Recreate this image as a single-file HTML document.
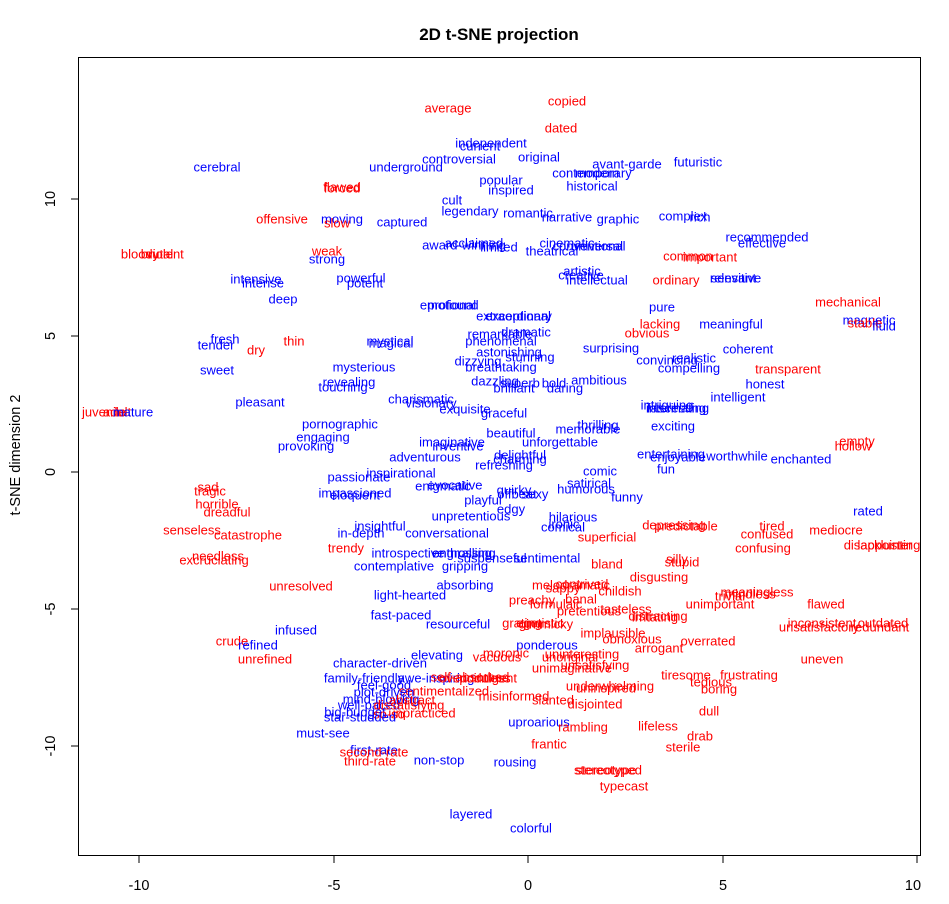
<!DOCTYPE html>
<html><head><meta charset="utf-8"><style>
html,body{margin:0;padding:0;background:#fff}
svg{display:block}
text{font-family:"Liberation Sans",Arial,sans-serif}
.r{fill:#ff0000}.b{fill:#0000ff}
.w text{font-size:13px;text-anchor:middle;dominant-baseline:central}
</style></head><body>
<svg width="949" height="904" xmlns="http://www.w3.org/2000/svg">
<rect width="949" height="904" fill="#fff"/>
<text x="499" y="40" font-size="17" font-weight="bold" text-anchor="middle">2D t-SNE projection</text>
<rect x="78.5" y="57.5" width="842" height="798" fill="none" stroke="#000" stroke-width="1"/>
<g stroke="#000">
<line x1="139" y1="856" x2="139" y2="863"/><line x1="334" y1="856" x2="334" y2="863"/><line x1="528" y1="856" x2="528" y2="863"/><line x1="723" y1="856" x2="723" y2="863"/><line x1="917" y1="856" x2="917" y2="863"/>
<line x1="78" y1="746" x2="71" y2="746"/><line x1="78" y1="609" x2="71" y2="609"/><line x1="78" y1="472" x2="71" y2="472"/><line x1="78" y1="336" x2="71" y2="336"/><line x1="78" y1="199" x2="71" y2="199"/>
</g>
<g font-size="14.5" text-anchor="middle">
<text x="139" y="890">-10</text><text x="334" y="890">-5</text><text x="528" y="890">0</text><text x="723" y="890">5</text><text x="913" y="890">10</text>
<text transform="translate(55,746) rotate(-90)">-10</text>
<text transform="translate(55,609) rotate(-90)">-5</text>
<text transform="translate(55,472) rotate(-90)">0</text>
<text transform="translate(55,336) rotate(-90)">5</text>
<text transform="translate(55,199) rotate(-90)">10</text>
<text transform="translate(20,455) rotate(-90)">t-SNE dimension 2</text>
</g>
<g class="w">
<text class="r" x="448" y="108">average</text>
<text class="r" x="567" y="101">copied</text>
<text class="r" x="561" y="128">dated</text>
<text class="b" x="491" y="143">independent</text>
<text class="b" x="480" y="146">current</text>
<text class="b" x="459" y="159">controversial</text>
<text class="b" x="539" y="157">original</text>
<text class="b" x="406" y="167">underground</text>
<text class="b" x="627" y="164">avant-garde</text>
<text class="b" x="698" y="162">futuristic</text>
<text class="b" x="592" y="173">contemporary</text>
<text class="b" x="597" y="173">modern</text>
<text class="b" x="217" y="167">cerebral</text>
<text class="b" x="501" y="180">popular</text>
<text class="b" x="592" y="186">historical</text>
<text class="b" x="511" y="190">inspired</text>
<text class="r" x="342" y="187">flawed</text>
<text class="r" x="342" y="188">forced</text>
<text class="b" x="452" y="200">cult</text>
<text class="b" x="470" y="211">legendary</text>
<text class="b" x="528" y="213">romantic</text>
<text class="b" x="567" y="217">narrative</text>
<text class="b" x="618" y="219">graphic</text>
<text class="b" x="683" y="216">complex</text>
<text class="b" x="700" y="217">rich</text>
<text class="r" x="282" y="219">offensive</text>
<text class="b" x="342" y="219">moving</text>
<text class="r" x="337" y="223">slow</text>
<text class="b" x="402" y="222">captured</text>
<text class="b" x="767" y="237">recommended</text>
<text class="b" x="762" y="243">effective</text>
<text class="r" x="327" y="251">weak</text>
<text class="b" x="327" y="259">strong</text>
<text class="b" x="464" y="245">award-winning</text>
<text class="b" x="474" y="243">acclaimed</text>
<text class="b" x="499" y="247">limited</text>
<text class="b" x="567" y="243">cinematic</text>
<text class="b" x="597" y="246">universal</text>
<text class="b" x="552" y="251">theatrical</text>
<text class="b" x="589" y="246">conventional</text>
<text class="r" x="140" y="254">bloody</text>
<text class="r" x="157" y="254">brutal</text>
<text class="r" x="165" y="254">violent</text>
<text class="r" x="688" y="256">common</text>
<text class="r" x="710" y="257">important</text>
<text class="b" x="361" y="278">powerful</text>
<text class="b" x="365" y="283">potent</text>
<text class="b" x="256" y="279">intensive</text>
<text class="b" x="263" y="283">intense</text>
<text class="b" x="582" y="271">artistic</text>
<text class="b" x="581" y="275">creative</text>
<text class="b" x="597" y="280">intellectual</text>
<text class="r" x="676" y="280">ordinary</text>
<text class="b" x="733" y="278">relevant</text>
<text class="b" x="736" y="278">sensitive</text>
<text class="b" x="283" y="299">deep</text>
<text class="b" x="448" y="305">emotional</text>
<text class="b" x="453" y="305">profound</text>
<text class="r" x="848" y="302">mechanical</text>
<text class="b" x="514" y="316">extraordinary</text>
<text class="b" x="518" y="316">exceptional</text>
<text class="b" x="662" y="307">pure</text>
<text class="b" x="869" y="320">magnetic</text>
<text class="r" x="865" y="323">stable</text>
<text class="b" x="884" y="326">fluid</text>
<text class="r" x="660" y="324">lacking</text>
<text class="b" x="731" y="324">meaningful</text>
<text class="r" x="647" y="333">obvious</text>
<text class="b" x="500" y="334">remarkable</text>
<text class="b" x="526" y="332">dramatic</text>
<text class="b" x="225" y="339">fresh</text>
<text class="b" x="216" y="345">tender</text>
<text class="r" x="256" y="350">dry</text>
<text class="r" x="294" y="341">thin</text>
<text class="b" x="390" y="341">mystical</text>
<text class="b" x="391" y="343">magical</text>
<text class="b" x="501" y="341">phenomenal</text>
<text class="b" x="611" y="348">surprising</text>
<text class="b" x="748" y="349">coherent</text>
<text class="b" x="509" y="352">astonishing</text>
<text class="b" x="530" y="357">stunning</text>
<text class="b" x="478" y="361">dizzying</text>
<text class="b" x="501" y="367">breathtaking</text>
<text class="b" x="667" y="360">convincing</text>
<text class="b" x="694" y="358">realistic</text>
<text class="b" x="689" y="368">compelling</text>
<text class="r" x="788" y="369">transparent</text>
<text class="b" x="217" y="370">sweet</text>
<text class="b" x="364" y="367">mysterious</text>
<text class="b" x="349" y="382">revealing</text>
<text class="b" x="343" y="387">touching</text>
<text class="b" x="495" y="381">dazzling</text>
<text class="b" x="520" y="383">superb</text>
<text class="b" x="514" y="388">brilliant</text>
<text class="b" x="554" y="383">bold</text>
<text class="b" x="599" y="380">ambitious</text>
<text class="b" x="565" y="388">daring</text>
<text class="b" x="765" y="384">honest</text>
<text class="b" x="738" y="397">intelligent</text>
<text class="r" x="104" y="412">juvenile</text>
<text class="r" x="117" y="412">adult</text>
<text class="b" x="133" y="412">mature</text>
<text class="b" x="260" y="402">pleasant</text>
<text class="b" x="421" y="399">charismatic</text>
<text class="b" x="431" y="403">visionary</text>
<text class="b" x="465" y="409">exquisite</text>
<text class="b" x="504" y="413">graceful</text>
<text class="b" x="667" y="405">intriguing</text>
<text class="b" x="676" y="408">interesting</text>
<text class="b" x="678" y="408">fascinating</text>
<text class="b" x="340" y="424">pornographic</text>
<text class="b" x="588" y="429">memorable</text>
<text class="b" x="598" y="425">thrilling</text>
<text class="b" x="673" y="426">exciting</text>
<text class="b" x="323" y="437">engaging</text>
<text class="b" x="511" y="433">beautiful</text>
<text class="b" x="452" y="442">imaginative</text>
<text class="b" x="458" y="446">inventive</text>
<text class="b" x="560" y="442">unforgettable</text>
<text class="r" x="857" y="441">empty</text>
<text class="r" x="853" y="446">hollow</text>
<text class="b" x="306" y="446">provoking</text>
<text class="b" x="425" y="457">adventurous</text>
<text class="b" x="520" y="455">delightful</text>
<text class="b" x="520" y="459">charming</text>
<text class="b" x="671" y="454">entertaining</text>
<text class="b" x="678" y="457">enjoyable</text>
<text class="b" x="737" y="456">worthwhile</text>
<text class="b" x="801" y="459">enchanted</text>
<text class="b" x="504" y="465">refreshing</text>
<text class="b" x="666" y="469">fun</text>
<text class="b" x="600" y="471">comic</text>
<text class="b" x="359" y="477">passionate</text>
<text class="b" x="401" y="473">inspirational</text>
<text class="r" x="208" y="487">sad</text>
<text class="r" x="210" y="491">tragic</text>
<text class="b" x="443" y="486">enigmatic</text>
<text class="b" x="455" y="485">evocative</text>
<text class="b" x="514" y="490">quirky</text>
<text class="b" x="517" y="494">offbeat</text>
<text class="b" x="535" y="494">sexy</text>
<text class="b" x="589" y="483">satirical</text>
<text class="b" x="586" y="489">humorous</text>
<text class="b" x="627" y="497">funny</text>
<text class="r" x="217" y="504">horrible</text>
<text class="b" x="355" y="493">impassioned</text>
<text class="b" x="355" y="495">eloquent</text>
<text class="r" x="227" y="512">dreadful</text>
<text class="b" x="483" y="500">playful</text>
<text class="b" x="511" y="509">edgy</text>
<text class="b" x="868" y="511">rated</text>
<text class="b" x="573" y="517">hilarious</text>
<text class="b" x="471" y="516">unpretentious</text>
<text class="r" x="192" y="530">senseless</text>
<text class="r" x="248" y="535">catastrophe</text>
<text class="b" x="380" y="526">insightful</text>
<text class="b" x="361" y="533">in-depth</text>
<text class="b" x="447" y="533">conversational</text>
<text class="b" x="564" y="524">ironic</text>
<text class="b" x="563" y="527">comical</text>
<text class="r" x="674" y="525">depressing</text>
<text class="r" x="686" y="526">predictable</text>
<text class="r" x="772" y="526">tired</text>
<text class="r" x="836" y="530">mediocre</text>
<text class="r" x="607" y="537">superficial</text>
<text class="r" x="767" y="534">confused</text>
<text class="r" x="346" y="548">trendy</text>
<text class="b" x="408" y="553">introspective</text>
<text class="b" x="462" y="553">enthralling</text>
<text class="b" x="464" y="553">engrossing</text>
<text class="b" x="492" y="558">suspenseful</text>
<text class="b" x="547" y="558">sentimental</text>
<text class="r" x="763" y="548">confusing</text>
<text class="r" x="882" y="545">disappointing</text>
<text class="r" x="885" y="545">lackluster</text>
<text class="r" x="677" y="559">silly</text>
<text class="r" x="682" y="562">stupid</text>
<text class="r" x="218" y="556">needless</text>
<text class="r" x="214" y="560">excruciating</text>
<text class="b" x="394" y="566">contemplative</text>
<text class="b" x="465" y="566">gripping</text>
<text class="r" x="607" y="564">bland</text>
<text class="r" x="659" y="577">disgusting</text>
<text class="r" x="301" y="586">unresolved</text>
<text class="b" x="465" y="585">absorbing</text>
<text class="r" x="571" y="585">melodramatic</text>
<text class="r" x="582" y="584">contrived</text>
<text class="r" x="563" y="588">sappy</text>
<text class="r" x="620" y="591">childish</text>
<text class="r" x="757" y="592">meaningless</text>
<text class="r" x="730" y="596">trivial</text>
<text class="r" x="750" y="594">mindless</text>
<text class="b" x="410" y="595">light-hearted</text>
<text class="r" x="532" y="600">preachy</text>
<text class="r" x="581" y="599">banal</text>
<text class="r" x="556" y="604">formulaic</text>
<text class="r" x="589" y="611">pretentious</text>
<text class="r" x="626" y="609">tasteless</text>
<text class="r" x="658" y="616">distracting</text>
<text class="r" x="655" y="617">irritating</text>
<text class="r" x="720" y="604">unimportant</text>
<text class="r" x="826" y="604">flawed</text>
<text class="b" x="401" y="615">fast-paced</text>
<text class="b" x="458" y="624">resourceful</text>
<text class="r" x="522" y="623">grating</text>
<text class="r" x="540" y="623">egotistic</text>
<text class="r" x="546" y="624">gimmicky</text>
<text class="r" x="822" y="623">inconsistent</text>
<text class="r" x="883" y="623">outdated</text>
<text class="r" x="819" y="627">unsatisfactory</text>
<text class="r" x="880" y="627">redundant</text>
<text class="b" x="296" y="630">infused</text>
<text class="r" x="613" y="633">implausible</text>
<text class="r" x="232" y="641">crude</text>
<text class="b" x="258" y="645">refined</text>
<text class="r" x="632" y="639">obnoxious</text>
<text class="r" x="708" y="641">overrated</text>
<text class="b" x="547" y="645">ponderous</text>
<text class="r" x="659" y="648">arrogant</text>
<text class="r" x="265" y="659">unrefined</text>
<text class="b" x="437" y="655">elevating</text>
<text class="r" x="506" y="653">moronic</text>
<text class="r" x="497" y="657">vacuous</text>
<text class="r" x="582" y="654">uninteresting</text>
<text class="r" x="570" y="657">unoriginal</text>
<text class="r" x="822" y="659">uneven</text>
<text class="b" x="380" y="663">character-driven</text>
<text class="r" x="572" y="668">unimaginative</text>
<text class="r" x="595" y="665">unsatisfying</text>
<text class="b" x="364" y="678">family-friendly</text>
<text class="b" x="436" y="678">awe-inspiring</text>
<text class="r" x="470" y="677">self-absorbed</text>
<text class="r" x="485" y="678">pointless</text>
<text class="r" x="478" y="678">overindulgent</text>
<text class="r" x="686" y="675">tiresome</text>
<text class="r" x="749" y="675">frustrating</text>
<text class="r" x="711" y="682">tedious</text>
<text class="b" x="384" y="685">feel-good</text>
<text class="r" x="444" y="691">sentimentalized</text>
<text class="r" x="610" y="686">underwhelming</text>
<text class="r" x="606" y="688">uninspired</text>
<text class="r" x="719" y="689">boring</text>
<text class="b" x="384" y="692">plot-driven</text>
<text class="r" x="514" y="696">misinformed</text>
<text class="r" x="553" y="700">slanted</text>
<text class="r" x="595" y="704">disjointed</text>
<text class="b" x="381" y="699">mind-blowing</text>
<text class="r" x="412" y="700">abstract</text>
<text class="b" x="369" y="705">well-paced</text>
<text class="r" x="409" y="705">dissatisfying</text>
<text class="b" x="355" y="712">big-budget</text>
<text class="r" x="389" y="714">so-so</text>
<text class="r" x="422" y="713">unpracticed</text>
<text class="r" x="709" y="711">dull</text>
<text class="b" x="360" y="717">star-studded</text>
<text class="b" x="539" y="722">uproarious</text>
<text class="r" x="583" y="727">rambling</text>
<text class="r" x="658" y="726">lifeless</text>
<text class="r" x="700" y="736">drab</text>
<text class="b" x="323" y="733">must-see</text>
<text class="r" x="549" y="744">frantic</text>
<text class="r" x="683" y="747">sterile</text>
<text class="b" x="374" y="750">first-rate</text>
<text class="r" x="374" y="752">second-rate</text>
<text class="r" x="370" y="761">third-rate</text>
<text class="b" x="439" y="760">non-stop</text>
<text class="b" x="515" y="762">rousing</text>
<text class="r" x="608" y="770">stereotyped</text>
<text class="r" x="606" y="770">stereotype</text>
<text class="r" x="624" y="786">typecast</text>
<text class="b" x="471" y="814">layered</text>
<text class="b" x="531" y="828">colorful</text>
</g>
</svg>
</body></html>
